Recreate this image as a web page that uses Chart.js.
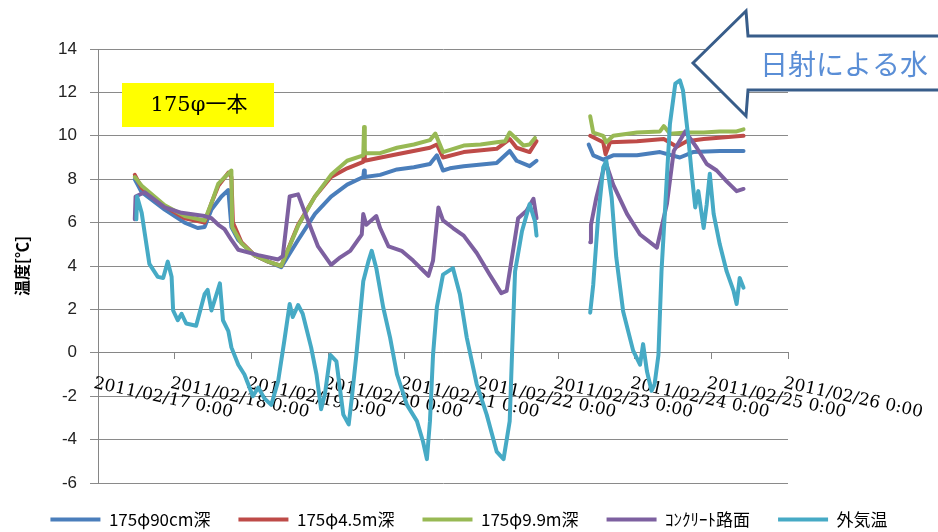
<!DOCTYPE html>
<html>
<head>
<meta charset="utf-8">
<script src="https://cdn.jsdelivr.net/npm/chart.js@4.4.1/dist/chart.umd.min.js"></script>
<style>
  html, body { margin: 0; padding: 0; background: #fff; }
  #wrap { width: 938px; height: 532px; }
</style>
</head>
<body>
<div id="wrap"><canvas id="chart" width="938" height="532"></canvas></div>
<script>
// x = 2011/02/17 0:00 からの経過日数, y = 温度[℃]
const tickLabels = [
  '2011/02/17 0:00', '2011/02/18 0:00', '2011/02/19 0:00', '2011/02/20 0:00', '2011/02/21 0:00',
  '2011/02/22 0:00', '2011/02/23 0:00', '2011/02/24 0:00', '2011/02/25 0:00', '2011/02/26 0:00'
];
const seriesNames = ['175φ90cm深', '175φ4.5m深', '175φ9.9m深', 'ｺﾝｸﾘｰﾄ路面', '外気温'];
const lineColors = ['#4a7ebb', '#be4b48', '#98b954', '#7d60a0', '#46aac5'];

const depth90cm = [
  [0.48, 8.0], [0.57, 7.4], [0.87, 6.6], [1.13, 6.0], [1.30, 5.75], [1.39, 5.8], [1.48, 6.6], [1.61, 7.2],
  [1.70, 7.5], [1.74, 5.8], [1.83, 5.2], [2.04, 4.5], [2.22, 4.2], [2.39, 3.95], [2.61, 5.2], [2.83, 6.4],
  [3.04, 7.2], [3.25, 7.75], [3.46, 8.1], [3.47, 8.4], [3.48, 8.1], [3.68, 8.2], [3.90, 8.45], [4.12, 8.55],
  [4.33, 8.7], [4.42, 9.1], [4.50, 8.4], [4.59, 8.5], [4.77, 8.6], [5.20, 8.75], [5.37, 9.3], [5.46, 8.85],
  [5.63, 8.6], [5.72, 8.85], [6.0, null],
  [6.40, 9.6], [6.46, 9.1], [6.59, 8.9], [6.72, 9.1], [7.03, 9.1], [7.33, 9.25], [7.59, 9.0], [7.76, 9.25],
  [8.11, 9.3], [8.42, 9.3]
];
const depth4_5m = [
  [0.48, 8.2], [0.57, 7.6], [0.87, 6.75], [1.13, 6.2], [1.39, 6.0], [1.48, 6.9], [1.57, 7.7], [1.70, 8.3],
  [1.74, 8.1], [1.76, 6.0], [1.87, 5.1], [2.04, 4.5], [2.22, 4.2], [2.39, 4.0], [2.61, 5.9], [2.83, 7.2],
  [3.04, 8.1], [3.25, 8.5], [3.46, 8.8], [3.47, 9.3], [3.48, 8.85], [3.90, 9.15], [4.33, 9.45], [4.42, 9.6],
  [4.50, 9.0], [4.77, 9.25], [5.20, 9.4], [5.37, 9.85], [5.46, 9.45], [5.63, 9.25], [5.72, 9.75], [6.0, null],
  [6.42, 10.0], [6.59, 9.7], [6.62, 9.15], [6.68, 9.7], [7.03, 9.75], [7.38, 9.85], [7.55, 9.5], [7.68, 9.75],
  [7.90, 9.85], [8.42, 10.0]
];
const depth9_9m = [
  [0.48, 8.1], [0.57, 7.7], [0.87, 6.8], [1.13, 6.3], [1.39, 6.1], [1.48, 6.9], [1.57, 7.8], [1.74, 8.4],
  [1.75, 5.8], [1.87, 5.05], [2.04, 4.5], [2.22, 4.2], [2.39, 4.0], [2.61, 5.85], [2.83, 7.2], [3.04, 8.2],
  [3.25, 8.85], [3.46, 9.1], [3.47, 10.4], [3.48, 9.2], [3.68, 9.2], [3.90, 9.45], [4.12, 9.6], [4.33, 9.8],
  [4.40, 10.1], [4.50, 9.25], [4.77, 9.55], [4.99, 9.6], [5.20, 9.7], [5.31, 9.75], [5.37, 10.15], [5.46, 9.85],
  [5.55, 9.55], [5.63, 9.6], [5.70, 9.9], [6.0, null],
  [6.42, 10.9], [6.46, 10.15], [6.59, 10.0], [6.63, 9.7], [6.72, 10.0], [7.03, 10.15], [7.33, 10.2], [7.38, 10.45],
  [7.46, 10.1], [7.68, 10.15], [7.90, 10.15], [8.11, 10.2], [8.33, 10.2], [8.42, 10.3]
];
const roadSurface = [
  [0.48, 6.15], [0.49, 7.2], [0.61, 7.4], [0.87, 6.7], [1.09, 6.45], [1.39, 6.3], [1.48, 6.2], [1.57, 5.9],
  [1.65, 5.7], [1.74, 5.2], [1.83, 4.75], [2.09, 4.5], [2.35, 4.3], [2.41, 4.45], [2.50, 7.2], [2.61, 7.3],
  [2.70, 6.45], [2.87, 4.9], [3.04, 4.05], [3.16, 4.4], [3.29, 4.7], [3.44, 5.45], [3.46, 6.4], [3.50, 5.9],
  [3.63, 6.3], [3.68, 5.75], [3.79, 4.9], [3.96, 4.7], [4.11, 4.25], [4.31, 3.55], [4.37, 4.25], [4.44, 6.7],
  [4.50, 6.1], [4.63, 5.75], [4.77, 5.4], [4.94, 4.6], [5.11, 3.6], [5.26, 2.75], [5.33, 2.85], [5.42, 4.85],
  [5.48, 6.2], [5.59, 6.55], [5.68, 7.1], [5.72, 6.2], [6.0, null],
  [6.42, 5.1], [6.43, 5.9], [6.50, 7.15], [6.59, 8.4], [6.63, 8.7], [6.72, 7.75], [6.90, 6.4], [7.07, 5.45],
  [7.29, 4.85], [7.42, 6.85], [7.51, 9.3], [7.66, 10.2], [7.81, 9.45], [7.94, 8.7], [8.07, 8.4], [8.20, 7.9],
  [8.33, 7.45], [8.42, 7.55]
];
const outdoorAir = [
  [0.50, 6.15], [0.51, 7.2], [0.57, 6.45], [0.61, 5.5], [0.67, 4.1], [0.78, 3.5], [0.85, 3.45], [0.91, 4.2],
  [0.96, 3.5], [0.98, 1.95], [1.04, 1.5], [1.09, 1.8], [1.15, 1.35], [1.28, 1.25], [1.39, 2.7], [1.43, 2.9],
  [1.48, 1.95], [1.59, 3.2], [1.63, 1.5], [1.70, 1.0], [1.74, 0.25], [1.83, -0.55], [1.91, -1.0], [2.02, -2.0],
  [2.09, -1.6], [2.17, -2.1], [2.26, -2.4], [2.35, -1.3], [2.43, 0.55], [2.50, 2.25], [2.54, 1.65], [2.61, 2.2],
  [2.67, 1.8], [2.78, 0.25], [2.85, -1.0], [2.91, -2.6], [2.96, -1.9], [3.03, -0.1], [3.11, -0.4], [3.20, -2.85],
  [3.27, -3.3], [3.31, -2.1], [3.37, -0.1], [3.46, 3.3], [3.53, 4.25], [3.57, 4.7], [3.63, 3.9], [3.72, 2.1],
  [3.81, 0.7], [3.90, -1.0], [4.03, -2.4], [4.16, -3.15], [4.24, -4.1], [4.29, -4.9], [4.33, -3.15], [4.37, -0.1],
  [4.42, 2.1], [4.50, 3.6], [4.63, 3.9], [4.72, 2.7], [4.81, 0.7], [4.94, -1.45], [5.07, -2.85], [5.20, -4.55],
  [5.29, -4.9], [5.37, -3.15], [5.40, -0.1], [5.44, 3.75], [5.53, 5.6], [5.63, 6.85], [5.70, 6.05], [5.72, 5.4],
  [6.0, null],
  [6.42, 1.85], [6.46, 3.15], [6.52, 6.1], [6.59, 8.55], [6.63, 8.85], [6.70, 7.15], [6.76, 4.4], [6.85, 1.9],
  [6.98, 0.1], [7.07, -0.55], [7.11, 0.4], [7.16, -0.85], [7.22, -1.75], [7.26, -1.45], [7.31, -0.1], [7.35, 3.75],
  [7.40, 6.85], [7.46, 10.55], [7.53, 12.4], [7.59, 12.55], [7.63, 12.1], [7.70, 9.9], [7.74, 8.4], [7.79, 6.7],
  [7.83, 7.45], [7.90, 5.75], [7.94, 6.85], [7.98, 8.25], [8.03, 6.4], [8.11, 5.0], [8.20, 3.75], [8.29, 2.85],
  [8.33, 2.25], [8.37, 3.45], [8.42, 3.0]
];

const allSeries = [depth90cm, depth4_5m, depth9_9m, roadSurface, outdoorAir];

// x軸ラベル(斜め)、黄色ラベル、矢印
const decorations = {
  id: 'decorations',
  beforeDatasetsDraw(chart) {
    const ctx = chart.ctx;
    const xs = chart.scales.x;
    const ys = chart.scales.y;
    const baseY = ys.getPixelForValue(0) + 35;
    ctx.save();
    ctx.font = '17px "DejaVu Serif"';
    ctx.fillStyle = '#000';
    ctx.textAlign = 'left';
    ctx.textBaseline = 'alphabetic';
    tickLabels.forEach((t, i) => {
      ctx.save();
      ctx.translate(xs.getPixelForValue(i) - 5, baseY);
      ctx.rotate(12 * Math.PI / 180);
      ctx.fillText(t, 0, 0);
      ctx.restore();
    });
    ctx.restore();
  },
  afterDraw(chart) {
    const ctx = chart.ctx;
    ctx.save();
    // 175φ一本
    ctx.fillStyle = '#ffff00';
    ctx.fillRect(122, 83, 152, 44);
    ctx.fillStyle = '#000';
    ctx.font = '21px "DejaVu Serif", "Noto Sans CJK JP"';
    ctx.textAlign = 'center';
    ctx.textBaseline = 'middle';
    ctx.fillText('175φ一本', 199, 106);

    // 矢印
    ctx.beginPath();
    ctx.moveTo(693, 63);
    ctx.lineTo(746, 11);
    ctx.lineTo(748, 36);
    ctx.lineTo(945, 36);
    ctx.lineTo(945, 90);
    ctx.lineTo(748, 90);
    ctx.lineTo(746, 116);
    ctx.closePath();
    ctx.fillStyle = '#fff';
    ctx.fill();
    ctx.strokeStyle = '#385d8a';
    ctx.lineWidth = 3;
    ctx.stroke();
    ctx.fillStyle = '#5a8ed6';
    ctx.font = '28px "Noto Sans CJK JP"';
    ctx.textAlign = 'left';
    ctx.textBaseline = 'middle';
    ctx.fillText('日射による水', 760, 64);
    ctx.restore();
  }
};

new Chart(document.getElementById('chart'), {
  type: 'line',
  data: {
    datasets: allSeries.map((s, i) => ({
      label: seriesNames[i],
      data: s.map(p => ({ x: p[0], y: p[1] })),
      borderColor: lineColors[i],
      backgroundColor: lineColors[i],
      borderWidth: 4,
      borderJoinStyle: 'round',
      borderCapStyle: 'round',
      pointRadius: 0,
      tension: 0,
      spanGaps: false,
      order: 5 - i
    }))
  },
  options: {
    responsive: false,
    animation: false,
    layout: { padding: { left: 0, right: 0, top: 49, bottom: -6 } },
    scales: {
      x: {
        type: 'linear',
        min: 0,
        max: 9,
        position: { y: 0 },
        ticks: { display: false, stepSize: 1 },
        grid: { drawOnChartArea: false, drawTicks: true, tickLength: 6, color: '#868686' },
        border: { color: '#868686', width: 1 }
      },
      y: {
        min: -6,
        max: 14,
        ticks: { stepSize: 2, color: '#222', padding: 13, font: { family: 'Liberation Sans', size: 17 } },
        grid: { color: '#8a8a8a', tickLength: 8 },
        border: { color: '#868686' },
        title: {
          display: true,
          text: '温度[℃]',
          color: '#000',
          font: { family: 'Noto Sans CJK JP', size: 16, weight: 'bold' },
          padding: { top: 12, bottom: 0 }
        },
        afterFit(scale) {
          scale.width = 98;
          scale.paddingTop = 0;
          scale.paddingBottom = 0;
        }
      },
      // 右側の余白用(何も描かない)
      rightSpace: {
        position: 'right',
        display: true,
        ticks: { display: false },
        grid: { display: false },
        border: { display: false },
        afterFit(scale) {
          scale.width = 150;
          scale.paddingTop = 0;
          scale.paddingBottom = 0;
        }
      }
    },
    plugins: {
      tooltip: { enabled: false },
      legend: {
        position: 'bottom',
        labels: {
          boxWidth: 50,
          boxHeight: 4,
          padding: 28,
          color: '#000',
          font: { family: 'Noto Sans CJK JP', size: 17 },
          sort: (a, b) => a.datasetIndex - b.datasetIndex,
          generateLabels(chart) {
            return Chart.defaults.plugins.legend.labels.generateLabels(chart)
              .map(item => ({ ...item, lineWidth: 0 }));
          }
        }
      }
    }
  },
  plugins: [decorations]
});
</script>
</body>
</html>
